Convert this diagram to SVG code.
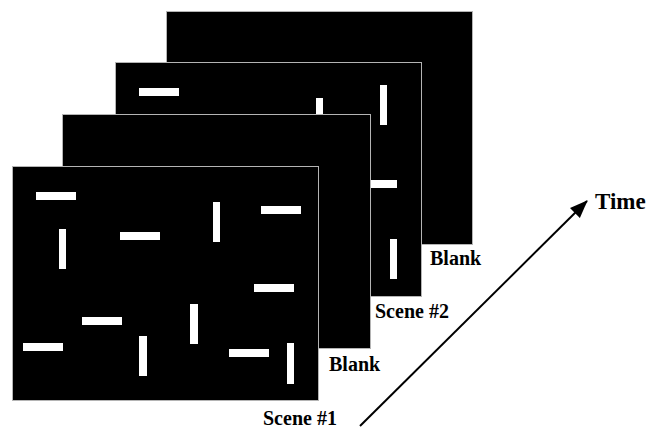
<svg xmlns="http://www.w3.org/2000/svg" width="650" height="428" viewBox="0 0 650 428">
<defs>
<style>
.frame{fill:#000;stroke:#b4b4b4;stroke-width:1}
.bar{fill:#fff}
.lbl{font-family:"Liberation Serif","Times New Roman",serif;font-weight:bold;font-size:20px;fill:#000}
.time{font-size:23px}
</style>
<marker id="ah" markerUnits="userSpaceOnUse" markerWidth="20" markerHeight="16" refX="17" refY="7" orient="auto">
<path d="M0,0 L18,7 L0,14 Z" fill="#000"/>
</marker>
</defs>
<rect width="650" height="428" fill="#fff"/>
<g id="blank2">
<rect class="frame" x="166.5" y="11.5" width="306" height="233"/>
</g>
<g id="scene2">
<rect class="frame" x="115.5" y="62.5" width="306" height="234"/>
<rect class="bar" x="139" y="88" width="40" height="8"/>
<rect class="bar" x="316" y="98" width="7" height="40"/>
<rect class="bar" x="380" y="85" width="7" height="40"/>
<rect class="bar" x="357" y="180" width="40" height="8"/>
<rect class="bar" x="390" y="239" width="7" height="40"/>
</g>
<g id="blank1">
<rect class="frame" x="62.5" y="114.5" width="308" height="234"/>
</g>
<g id="scene1">
<rect class="frame" x="12.5" y="166.5" width="306" height="234"/>
<rect class="bar" x="36" y="192" width="40" height="8"/>
<rect class="bar" x="59" y="229" width="7" height="40"/>
<rect class="bar" x="120" y="232" width="40" height="8"/>
<rect class="bar" x="213" y="202" width="7" height="40"/>
<rect class="bar" x="261" y="206" width="40" height="8"/>
<rect class="bar" x="254" y="284" width="40" height="8"/>
<rect class="bar" x="82" y="317" width="40" height="8"/>
<rect class="bar" x="190" y="304" width="8" height="40"/>
<rect class="bar" x="23" y="343" width="40" height="8"/>
<rect class="bar" x="139" y="336" width="8" height="40"/>
<rect class="bar" x="229" y="349" width="40" height="8"/>
<rect class="bar" x="287" y="343" width="7" height="41"/>
</g>
<g id="connectors">
<line x1="360" y1="426" x2="587" y2="201" stroke="#000" stroke-width="2" marker-end="url(#ah)"/>
</g>
<g id="labels">
<text class="lbl" x="263" y="425">Scene #1</text>
<text class="lbl" x="329" y="371">Blank</text>
<text class="lbl" x="375" y="318">Scene #2</text>
<text class="lbl" x="430" y="265">Blank</text>
<text class="lbl time" x="595" y="209">Time</text>
</g>
</svg>
